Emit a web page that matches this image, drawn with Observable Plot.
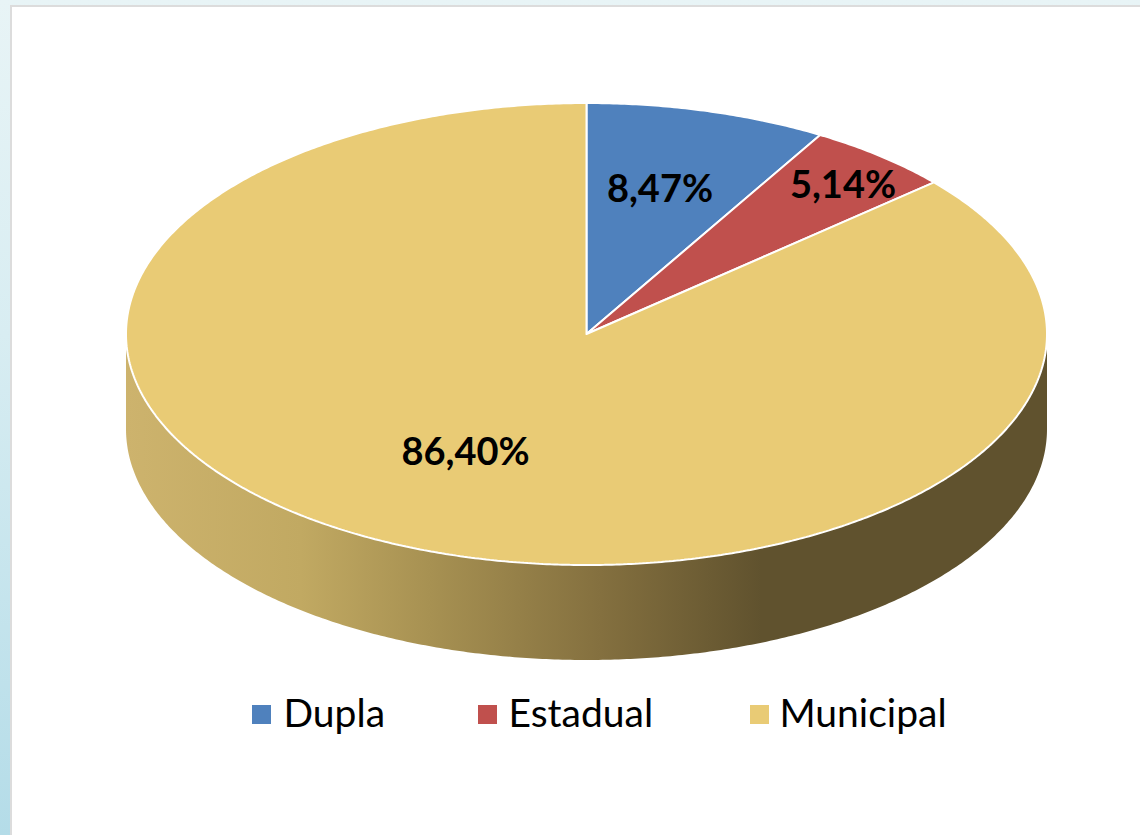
<!DOCTYPE html>
<html>
<head>
<meta charset="utf-8">
<script src="https://cdn.jsdelivr.net/npm/d3@7"></script>
<script src="https://cdn.jsdelivr.net/npm/@observablehq/plot@0.6"></script>
<style>
html,body{margin:0;padding:0;width:1140px;height:835px;overflow:hidden;background:linear-gradient(180deg,#e8f4f6 0%,#d8edf2 40%,#b4dce8 100%);}
#panel{position:absolute;left:10px;top:5px;width:1130px;height:830px;background:#fff;border-left:2px solid #dcdcdc;border-top:2px solid #dcdcdc;box-sizing:border-box;}
#chart{position:absolute;left:0;top:0;}
#chart svg{background:transparent;display:block;}
</style>
</head>
<body>
<div id="panel"></div>
<div id="chart"></div>
<script>
const categories = ["Dupla", "Estadual", "Municipal"];
const values = [8.47, 5.14, 86.40];
const labels = ["8,47%", "5,14%", "86,40%"];
const colors = ["#4f81bd", "#c0504d", "#e9cb75"];

const cx = 586, cy = 333.5, rx = 460.5, ry = 231, depth = 95;
const font = "Lato, Carlito, sans-serif";
const total = d3.sum(values);
const pt = (a, dy = 0) => ({px: cx + rx * Math.sin(a), py: cy - ry * Math.cos(a) + dy});

let cum = 0;
const slices = categories.map((c, i) => {
  const a0 = cum / total * 2 * Math.PI;
  cum += values[i];
  const a1 = cum / total * 2 * Math.PI;
  const n = Math.max(2, Math.ceil((a1 - a0) * 120));
  const pts = [{px: cx, py: cy}];
  for (let k = 0; k <= n; k++) pts.push(pt(a0 + (a1 - a0) * k / n));
  pts.push({px: cx, py: cy});
  return {pts, color: colors[i]};
});

// Visible outer wall: lower half of the rim
const wall = [];
for (let k = 0; k <= 360; k++) wall.push(pt(Math.PI / 2 + Math.PI * k / 360));
for (let k = 360; k >= 0; k--) wall.push(pt(Math.PI / 2 + Math.PI * k / 360, depth));

const gradient = () => {
  const ns = "http://www.w3.org/2000/svg";
  const defs = document.createElementNS(ns, "defs");
  const g = document.createElementNS(ns, "linearGradient");
  g.setAttribute("id", "wallGrad");
  g.setAttribute("gradientUnits", "userSpaceOnUse");
  g.setAttribute("x1", cx - rx); g.setAttribute("x2", cx + rx);
  g.setAttribute("y1", 0); g.setAttribute("y2", 0);
  [[0, "#cdb36d"], [0.19, "#c1a962"], [0.33, "#a79152"], [0.515, "#84703f"], [0.69, "#60522e"], [1, "#60522e"]].forEach(([o, c]) => {
    const s = document.createElementNS(ns, "stop");
    s.setAttribute("offset", o); s.setAttribute("stop-color", c);
    g.appendChild(s);
  });
  defs.appendChild(g);
  return defs;
};

const labelRows = [
  {t: labels[0], px: 659.5, py: 189, f: 38},
  {t: labels[1], px: 842.5, py: 185, f: 38},
  {t: labels[2], px: 465, py: 452, f: 38}
];
const legendX = [252, 478, 750];
const legendRows = categories.map((c, i) => ({c, color: colors[i], px: legendX[i]}));

const plot = Plot.plot({
  width: 1140, height: 835,
  margin: 0,
  x: {domain: [0, 1140], range: [0, 1140], axis: null},
  y: {domain: [0, 835], range: [0, 835], axis: null},
  style: {background: "transparent"},
  marks: [
    gradient,
    Plot.line(wall, {x: "px", y: "py", fill: "url(#wallGrad)", stroke: "none"}),
    ...slices.map(s => Plot.line(s.pts, {x: "px", y: "py", fill: s.color, stroke: "#fff", strokeWidth: 2, strokeLinejoin: "miter"})),
    Plot.text(labelRows, {x: "px", y: "py", text: "t", fill: "#000", fontSize: d => d.f, fontWeight: 700, fontFamily: font}),
    Plot.rect(legendRows, {x1: "px", x2: d => d.px + 19, y1: 705, y2: 724, fill: "color"}),
    Plot.text(legendRows, {x: (d, i) => d.px + [31, 30, 29][i], y: 714.5, text: "c", textAnchor: "start", fill: "#000", fontSize: 39, fontFamily: font})
  ]
});
document.getElementById("chart").appendChild(plot);
</script>
</body>
</html>
